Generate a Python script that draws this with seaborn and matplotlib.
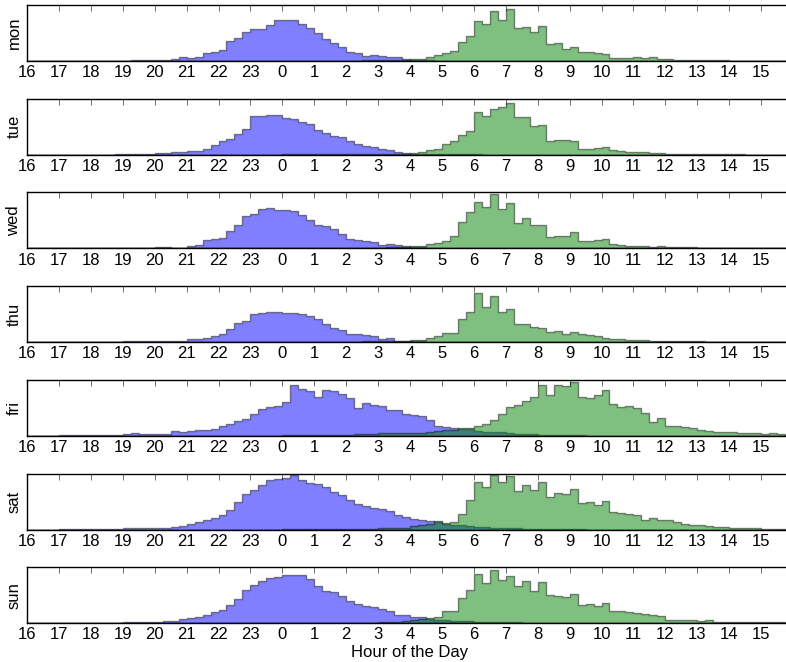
import numpy as np
import pandas as pd
import matplotlib
matplotlib.use("Agg")
import matplotlib.pyplot as plt
import seaborn as sns

# quarter-hour bins from 16:00 to 16:00 next day
days = ["mon", "tue", "wed", "thu", "fri", "sat", "sun"]

# blue: going to bed, green: getting up  (96 bins, 4 per hour, starting 16:00)
mon_bed = [0,0,0,0, 0,0,0,1, 1,1,1,1, 1,2,2,2, 3,4,5,12, 9,11,23,26, 33,60,68,88, 95,97,108,123,
           123,123,111,98, 85,66,55,43, 28,25,16,18, 15,12,12,6, 3,2,2,1, 1,1,1,1, 1,1,0,0, 0,0,0,0,
           0,0,0,0, 0,0,0,0, 0,0,0,0, 0,0,0,0, 0,0,0,0, 0,0,0,0, 0,0,0,0, 0,0,0,0]
mon_up = [0,0,0,0, 0,0,0,0, 0,0,0,0, 0,0,0,0, 0,0,0,0, 0,0,0,0, 0,0,0,0, 0,0,1,1,
          1,1,1,1, 1,1,1,1, 1,1,2,2, 2,2,3,3, 5,5,11,18, 23,31,56,75, 120,111,150,123, 156,98,101,88,
          106,50,53,35, 41,28,26,23, 21,10,9,9, 11,9,12,7, 6,3,2,2, 2,3,2,2, 1,1,1,1, 1,1,1,1]

tue_bed = [0,0,0,0, 0,0,0,0, 0,0,0,1, 2,2,3,3, 4,6,7,8, 10,12,18,28, 41,46,62,78, 116,116,118,118,
           111,106,98,91, 74,64,56,52, 41,31,26,23, 16,13,8,4, 3,2,2,1, 1,1,1,1, 1,0,0,0, 0,0,0,0,
           0,0,0,0, 0,0,0,0, 0,0,0,0, 0,0,0,0, 0,0,0,0, 0,0,0,0, 0,0,0,0, 0,0,0,0]
tue_up = [0,0,0,0, 0,0,0,0, 0,0,0,0, 0,0,0,0, 0,0,0,0, 0,0,0,0, 0,0,0,0, 0,0,0,0,
          1,1,1,1, 1,1,1,1, 1,1,1,1, 2,2,2,3, 5,8,14,18, 31,41,58,71, 129,116,138,143, 156,114,114,86,
          88,41,44,43, 41,18,18,19, 23,14,10,9, 7,7,6,6, 2,2,2,2, 3,2,1,1, 1,1,0,0, 0,0,0,0]

wed_bed = [0,0,0,0, 0,0,0,0, 0,0,1,1, 1,1,2,2, 3,3,2,2, 7,10,25,27, 31,53,71,98, 103,118,121,116,
           115,111,100,85, 71,68,57,43, 28,26,21,18, 11,12,9,7, 5,4,2,2, 1,1,1,1, 1,1,0,0, 0,0,0,0,
           0,0,0,0, 0,0,0,0, 0,0,0,0, 0,0,0,0, 0,0,0,0, 0,0,0,0, 0,0,0,0, 0,0,0,0]
wed_up = [0,0,0,0, 0,0,0,0, 0,0,0,0, 0,0,0,0, 0,0,0,0, 0,0,0,0, 0,0,0,0, 0,0,0,0,
          1,1,1,1, 1,1,1,1, 1,1,2,2, 2,3,4,4, 6,6,13,17, 23,38,80,108, 138,123,163,118, 135,76,91,71,
          71,35,37,38, 50,23,21,25, 28,13,10,8, 7,6,4,6, 4,4,3,3, 1,1,1,1, 0,0,0,0, 0,0,0,0]

thu_bed = [0,0,0,0, 0,0,0,0, 1,1,1,1, 4,3,3,4, 3,3,4,4, 8,9,13,17, 25,40,58,63, 83,88,90,90,
           88,87,83,77, 68,55,43,35, 25,25,22,17, 8,11,4,3, 2,2,1,1, 1,1,1,1, 1,0,0,0, 0,0,0,0,
           0,0,0,0, 0,0,0,0, 0,0,0,0, 0,0,0,0, 0,0,0,0, 0,0,0,0, 0,0,0,0, 0,0,0,0]
thu_up = [0,0,0,0, 0,0,0,0, 0,0,0,0, 0,0,0,0, 0,0,0,0, 0,0,0,0, 0,0,0,0, 0,0,0,0,
          1,1,1,1, 1,1,1,1, 1,1,2,2, 2,3,4,4, 5,6,13,17, 27,28,68,90, 148,105,137,90, 98,55,55,45,
          43,30,32,25, 30,23,20,17, 12,10,9,7, 7,5,4,4, 3,2,2,3, 4,1,1,1, 1,1,1,1, 1,1,1,1]

fri_bed = [0,0,0,0, 1,1,1,1, 1,3,3,3, 5,7,6,5, 5,6,14,12, 13,17,16,20, 28,36,43,50, 66,80,86,88,
           101,151,141,135, 116,138,133,125, 113,83,98,93, 90,78,78,65, 62,58,47,30, 25,23,20,20,
           15,10,10,10, 7,6,5,4, 3,2,2,1, 1,1,0,0, 0,0,0,0, 0,0,0,0, 0,0,0,0, 0,0,0,0, 0,0,0,0, 0,0,0,0]
fri_up = [0,0,0,0, 0,0,0,0, 0,0,0,0, 0,0,0,0, 0,0,0,0, 0,0,0,0, 0,0,0,0, 0,0,0,0,
          1,1,1,1, 1,1,1,2, 3,5,6,6, 7,7,8,8, 8,9,12,15, 18,18,23,23, 30,35,48,65, 87,93,105,117,
          153,123,153,150, 160,117,113,123, 138,95,85,90, 82,67,42,52, 30,28,25,22, 18,15,12,10,
          12,9,7,8, 5,8,4,3]

sat_bed = [0,0,0,0, 1,1,1,1, 1,2,2,2, 4,4,5,5, 6,6,8,10, 18,23,30,35, 43,58,83,108, 118,133,148,153,
           155,165,148,141, 138,128,113,103, 88,78,71,65, 61,55,45,38, 33,30,26,23, 18,15,13,11,
           9,7,6,5, 4,4,3,3, 2,2,1,1, 1,1,0,0, 0,0,0,0, 0,0,0,0, 0,0,0,0, 0,0,0,0, 0,0,0,0, 0,0,0,0]
sat_up = [0,0,0,0, 0,0,0,0, 0,0,0,0, 0,0,0,0, 0,0,0,0, 0,0,0,0, 0,0,0,0, 0,0,0,0,
          1,1,1,1, 1,1,1,1, 2,2,3,3, 5,5,6,6, 10,13,18,25, 20,23,48,88, 143,128,163,143, 161,115,133,118,
          143,98,111,106, 123,81,83,75, 86,53,51,48, 43,30,35,28, 28,23,18,15, 13,11,9,7,
          6,6,5,5, 3,3,2,1]

sun_bed = [0,0,0,0, 0,0,1,1, 1,1,2,2, 3,3,3,3, 4,7,8,13, 16,18,26,33, 41,56,73,99, 116,126,136,139,
           144,146,144,133, 111,96,93,83, 66,59,51,49, 44,36,26,24, 19,18,13,11, 9,7,6,6,
           5,5,4,4, 3,3,2,2, 2,1,1,1, 0,0,0,0, 0,0,0,0, 0,0,0,0, 0,0,0,0, 0,0,0,0, 0,0,0,0, 0,0,0,0]
sun_up = [0,0,0,0, 0,0,0,0, 0,0,0,0, 0,0,0,0, 0,0,0,0, 0,0,0,0, 0,0,0,0, 0,0,0,0,
          1,1,1,1, 1,1,1,1, 1,1,2,2, 3,4,5,7, 11,12,16,19, 36,38,76,101, 149,121,161,131,
          141,111,126,96, 123,86,83,80, 88,56,58,53, 61,38,36,34, 31,28,26,23, 11,10,9,9,
          8,9,5,5, 4,4,4,4, 3,3,3,2]

bed = [mon_bed, tue_bed, wed_bed, thu_bed, fri_bed, sat_bed, sun_bed]
up = [mon_up, tue_up, wed_up, thu_up, fri_up, sat_up, sun_up]

bin_start = np.arange(16, 40, 0.25)
hour_ticks = list(range(16, 40))
hour_labels = [str(h % 24) for h in hour_ticks]

sns.set_style("white")
plt.rcParams["font.family"] = ["Liberation Sans", "DejaVu Sans"]
plt.rcParams["text.color"] = "black"
plt.rcParams["axes.labelcolor"] = "black"
plt.rcParams["xtick.color"] = "black"

fig = plt.figure(figsize=(7.86, 6.62), dpi=100)
W, H = 786, 662

for i, day in enumerate(days):
    top = 5 + 93.7 * i
    ax = fig.add_axes([27 / W, (H - top - 56) / H, 766 / W, 56 / H])

    df = pd.DataFrame({"hour": bin_start + 0.125, "bed": bed[i], "up": up[i]})
    sns.histplot(data=df, x="hour", weights="bed", binwidth=0.25, binrange=(16, 40),
                 element="step", fill=True, color="blue", alpha=0.5,
                 edgecolor=(0, 0, 0, 0.45), linewidth=1, ax=ax)
    sns.histplot(data=df, x="hour", weights="up", binwidth=0.25, binrange=(16, 40),
                 element="step", fill=True, color=(0, 0.5, 0), alpha=0.5,
                 edgecolor=(0, 0, 0, 0.45), linewidth=1, ax=ax)

    ax.set_xlim(16, 40)
    ax.set_ylim(0, 168)
    ax.set_xticks(hour_ticks)
    ax.set_xticklabels(hour_labels, fontsize=12, color="black")
    ax.set_yticks([])
    ax.tick_params(axis="x", direction="in", top=True, length=4, width=0.6, pad=3,
                   color="#555555")
    for s in ax.spines.values():
        s.set_color("black")
        s.set_linewidth(1)
    ax.set_ylabel(day, fontsize=12, labelpad=4, color="black")
    ax.set_xlabel("")
    if i == len(days) - 1:
        ax.set_xlabel("Hour of the Day", fontsize=12, labelpad=2, color="black")

fig.savefig("out.png", dpi=100)
